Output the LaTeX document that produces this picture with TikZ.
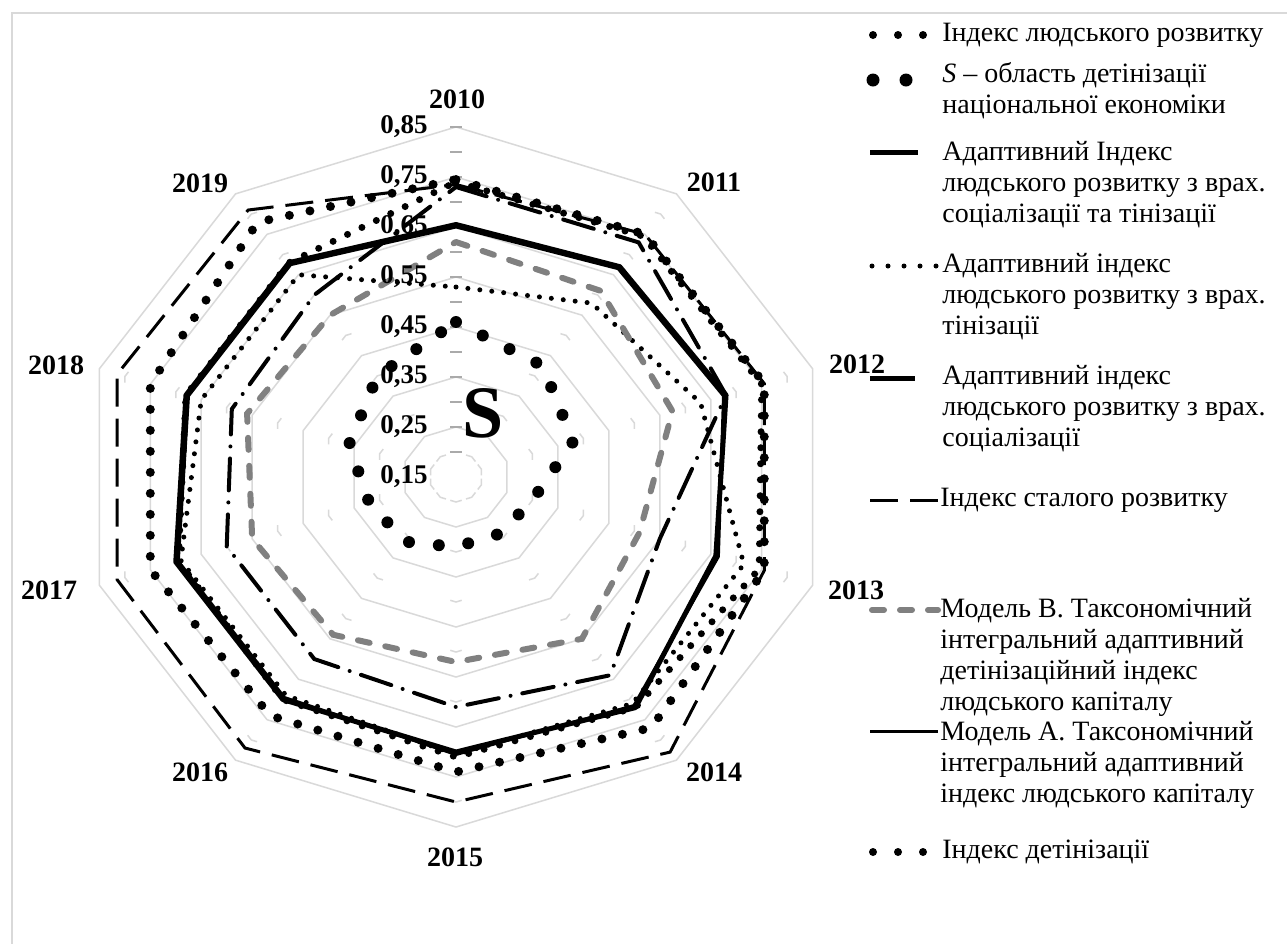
\documentclass[tikz,border=0pt]{standalone}
\usepackage{fontspec}
\setmainfont{Liberation Serif}
\usetikzlibrary{calc}
\definecolor{gridgray}{RGB}{217,217,217}
\definecolor{tickgray}{RGB}{170,170,170}
\definecolor{modelgray}{RGB}{128,128,128}
% one closed radar line: #1 name, #2 style, #3 ten values (2010..2019)
\newcommand{\radarline}[3]{%
  \foreach \v [count=\i from 0] in {#3}
    \coordinate (#1-\i) at ({90-36*\i}:{\v-0.15});
  \draw[#2] (#1-0) \foreach \i in {1,...,9} { -- (#1-\i) } -- cycle;
}
\tikzset{
  frameline/.style={draw=gridgray,line width=1pt},
  gridline/.style={draw=gridgray,line width=0.75pt},
  tickline/.style={draw=tickgray,line width=0.75pt},
  yearlbl/.style={font=\bfseries\fontsize{14}{14}\selectfont,inner sep=0pt},
  vallbl/.style={font=\bfseries\fontsize{13.5}{14}\selectfont,anchor=east,inner sep=0pt},
  % base of a multi-line node = baseline of its last line
  legtxt/.style={anchor=base west,align=left,inner sep=0pt,font=\fontsize{14}{15.5}\selectfont},
  sarea/.style={line width=6pt,line cap=round,dash pattern=on 0pt off 15pt},
  hdidots/.style={line width=3.5pt,line cap=round,dash pattern=on 0pt off 8pt},
  shadowdots/.style={line width=4.5pt,line cap=round,dash pattern=on 0pt off 10.5pt},
  adapboth/.style={line width=2.5pt,line join=round},
  adapshadow/.style={line width=2.5pt,line cap=round,dash pattern=on 0pt off 6pt},
  adapsoc/.style={line width=2pt,line cap=round,dash pattern=on 16pt off 6pt on 0pt off 6pt},
  sustain/.style={line width=1.5pt,dash pattern=on 14pt off 6pt},
  modelB/.style={draw=modelgray,line width=3pt,line cap=round,dash pattern=on 6pt off 8pt},
  modelA/.style={line width=1.5pt,line join=round},
}
\begin{document}
\begin{tikzpicture}[x=0.5pt,y=-0.5pt]
\useasboundingbox (0,0) rectangle (1287,944);
\fill[white] (0,0) rectangle (1287,944);
\draw[frameline] (1287,13) -| (12,944);

\begin{scope}[shift={(456,477)},x=267.86pt,y=250pt]
  % rings
  \foreach \k in {1,...,7}
    \draw[gridline] (90:{0.1*\k}) \foreach \j in {1,...,9} { -- ({90-36*\j}:{0.1*\k}) } -- cycle;
  \foreach \k in {1,...,7}
    \foreach \j in {1,...,9}
      \draw[gridline] ($({90-36*\j}:{0.1*\k-0.05})!3pt!({126-36*\j}:{0.1*\k-0.05})$)
        -- ({90-36*\j}:{0.1*\k-0.05})
        -- ($({90-36*\j}:{0.1*\k-0.05})!3pt!({54-36*\j}:{0.1*\k-0.05})$);
  % ticks on the 2010 axis
  \foreach \k in {1,...,14}
    \draw[tickline] ($(90:{0.05*\k})+(-3pt,0)$) -- ++(6pt,0);

  % series
  \radarline{hdi}{hdidots}{.74,.745,.75,.745,.72,.71,.70,.695,.68,.68}
  \radarline{sa}{sarea}{.46,.425,.38,.30,.29,.29,.31,.32,.36,.40}
  \radarline{ab}{adapboth}{.655,.67,.68,.66,.72,.70,.70,.70,.68,.68}
  \radarline{ash}{adapshadow}{.53,.58,.63,.715,.71,.705,.69,.69,.65,.65}
  \radarline{aso}{adapsoc}{.73,.73,.68,.55,.64,.61,.60,.60,.59,.60}
  \radarline{sus}{sustain}{.735,.75,.755,.755,.83,.80,.82,.815,.815,.81}
  \radarline{mb}{modelB}{.62,.61,.575,.51,.55,.52,.54,.55,.56,.55}
  \radarline{ma}{modelA}{.65,.665,.675,.665,.715,.705,.695,.695,.675,.675}
  \radarline{sh}{shadowdots}{.745,.75,.755,.755,.77,.74,.74,.75,.75,.78}
\end{scope}

\node[font=\bfseries\fontsize{37}{37}\selectfont,inner sep=0pt] (bigS) at (483,413) {S};

% value labels
\foreach \k in {15,25,35,45,55,65,75,85}
  \node[vallbl] (v\k) at (428,{477-(\k-15)*5}) {0,\k};

% year labels
\foreach \yr/\px/\py in {2010/457/99,2011/714/182,2012/857/364,2013/856/590,2014/714/772,
                         2015/455/857,2016/200/772,2017/49/590,2018/56/365,2019/200/183}
  \node[yearlbl] (y\yr) at (\px,\py) {\yr};

% legend
\foreach \x in {873,898,923} \fill (\x,35) circle (4);
\node[legtxt] (l1) at (942,41) {Індекс людського розвитку};
\foreach \x in {873,906} \fill (\x,80) circle (6.5);
\node[legtxt] (l2) at (942,113) {\textit{S} – область детінізації\\національної економіки};
\draw[adapboth] (870,152) -- (918,152);
\node[legtxt] (l3) at (942,222) {Адаптивний Індекс\\людського розвитку з врах.\\соціалізації та тінізації};
\foreach \x in {872,888,904,920,936} \fill (\x,266) circle (2.5);
\node[legtxt] (l4) at (942,334) {Адаптивний індекс\\людського розвитку з врах.\\тінізації};
\draw[line width=2.5pt] (870,378) -- (915,378);
\node[legtxt] (l5) at (942,446) {Адаптивний індекс\\людського розвитку з врах.\\соціалізації};
\draw[sustain] (870,500) -- (938,500);
\node[legtxt] (l6) at (940,506) {Індекс сталого розвитку};
\draw[modelB] (872,610) -- (938,610);
\node[legtxt] (l7) at (940,710) {Модель В. Таксономічний\\інтегральний адаптивний\\детінізаційний індекс\\людського капіталу};
\draw[modelA] (870,731) -- (938,731);
\node[legtxt] (l8) at (940,802) {Модель А. Таксономічний\\інтегральний адаптивний\\індекс людського капіталу};
\foreach \x in {873,898,923} \fill (\x,852) circle (4);
\node[legtxt] (l9) at (942,858) {Індекс детінізації};
\end{tikzpicture}
\end{document}
